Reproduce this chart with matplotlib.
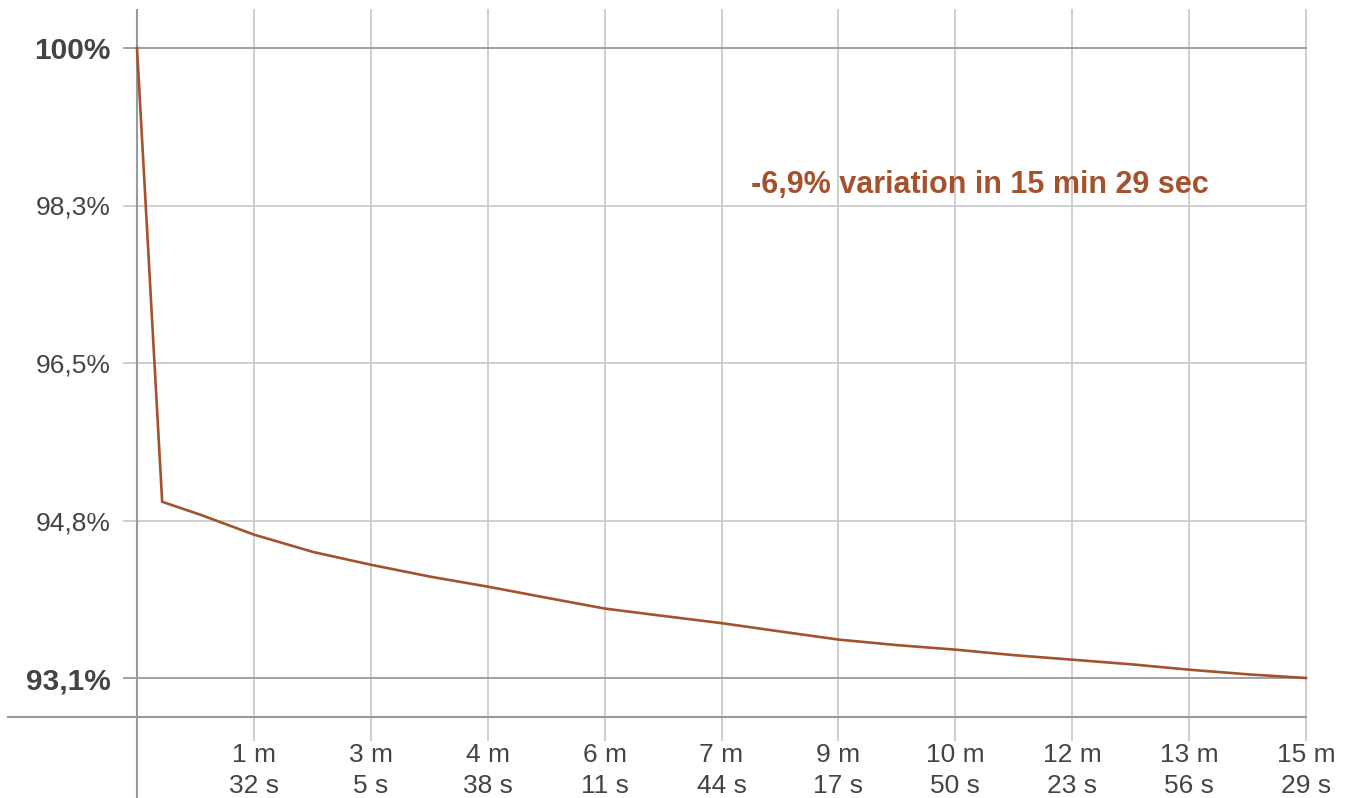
import matplotlib
matplotlib.use("Agg")
import matplotlib.pyplot as plt

plt.rcParams['font.family'] = ['Liberation Sans', 'DejaVu Sans']

# measured series: elapsed seconds and level (%)
elapsed_s = [0, 20, 50, 93, 140, 186, 233, 279, 325, 372, 418, 465, 511,
             558, 604, 651, 697, 744, 790, 837, 883, 929]
level_pct = [100.0, 95.03, 94.89, 94.67, 94.48, 94.34, 94.21, 94.10, 93.98,
             93.86, 93.78, 93.70, 93.61, 93.52, 93.46, 93.41, 93.35, 93.30,
             93.25, 93.19, 93.14, 93.10]

x_ticks = [92.9, 185.8, 278.7, 371.6, 464.5, 557.4, 650.3, 743.2, 836.1, 929]
x_labels = ['1 m\n32 s', '3 m\n5 s', '4 m\n38 s', '6 m\n11 s', '7 m\n44 s',
            '9 m\n17 s', '10 m\n50 s', '12 m\n23 s', '13 m\n56 s', '15 m\n29 s']
y_ticks = [100.0, 98.275, 96.55, 94.825, 93.1]
y_labels = ['100%', '98,3%', '96,5%', '94,8%', '93,1%']

note = '-6,9% variation in 15 min 29 sec'

LINE = '#a4522d'
DARK = '#9a9a9a'
LIGHT = '#cccccc'
TXT = '#444444'

W, H = 1352, 798
fig = plt.figure(figsize=(W / 100, H / 100), dpi=100)
left, right, top, bottom = 137, 1306, 10, 717
ax = fig.add_axes([left / W, (H - bottom) / H, (right - left) / W, (bottom - top) / H])
aw, ah = right - left, bottom - top

ax.set_xlim(0, 929)
ax.set_ylim(93.1 - 39 * 6.9 / 630, 100 + 38 * 6.9 / 630)
for s in ax.spines.values():
    s.set_visible(False)

# vertical grid lines with tick stubs below
for xt in x_ticks:
    ax.plot([xt, xt], [-23 / ah, 1], transform=ax.get_xaxis_transform(),
            color=LIGHT, lw=1.3, clip_on=False, zorder=1)

# horizontal grid lines with stubs to the left
for i, yt in enumerate(y_ticks):
    c = DARK if i in (0, len(y_ticks) - 1) else LIGHT
    ax.plot([-13 / aw, 1], [yt, yt], transform=ax.get_yaxis_transform(),
            color=c, lw=1.3, clip_on=False, zorder=1)

# axis lines
ax.plot([0, 0], [-80 / ah, 1], transform=ax.transAxes, color=DARK, lw=1.5,
        clip_on=False, zorder=2)
ax.plot([-129 / aw, 1], [0, 0], transform=ax.transAxes, color=DARK, lw=1.5,
        clip_on=False, zorder=2)

ax.set_xticks(x_ticks)
ax.set_xticklabels(x_labels, fontsize=19, color=TXT, linespacing=1.35)
ax.set_yticks(y_ticks)
ax.set_yticklabels(y_labels, fontsize=19, color=TXT)
ax.tick_params(axis='x', length=0, pad=19)
ax.tick_params(axis='y', length=0, pad=19)
for i, lab in enumerate(ax.get_yticklabels()):
    if i in (0, len(y_ticks) - 1):
        lab.set_fontweight('bold')
        lab.set_fontsize(21.5)

ax.plot(elapsed_s, level_pct, color=LINE, lw=1.9, zorder=3, clip_on=False)

ax.text(670, 98.50, note, color=LINE, fontsize=22, fontweight='bold',
        ha='center', va='center')

fig.savefig('out.png', dpi=100)
